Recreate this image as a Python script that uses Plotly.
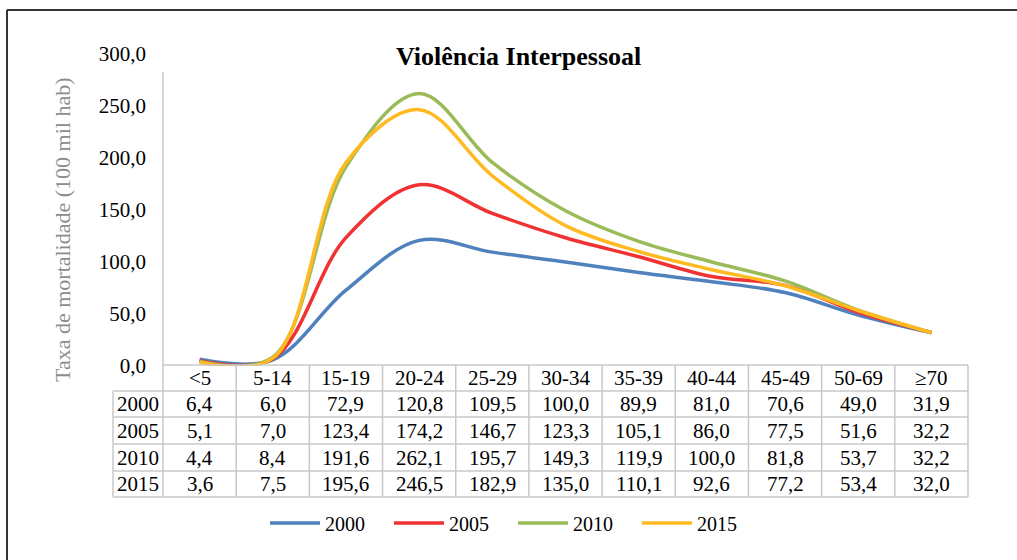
import plotly.graph_objects as go

categories = ["<5", "5-14", "15-19", "20-24", "25-29", "30-34", "35-39", "40-44", "45-49", "50-69", "≥70"]
years = ["2000", "2005", "2010", "2015"]
v2000 = [6.4, 6.0, 72.9, 120.8, 109.5, 100.0, 89.9, 81.0, 70.6, 49.0, 31.9]
v2005 = [5.1, 7.0, 123.4, 174.2, 146.7, 123.3, 105.1, 86.0, 77.5, 51.6, 32.2]
v2010 = [4.4, 8.4, 191.6, 262.1, 195.7, 149.3, 119.9, 100.0, 81.8, 53.7, 32.2]
v2015 = [3.6, 7.5, 195.6, 246.5, 182.9, 135.0, 110.1, 92.6, 77.2, 53.4, 32.0]
series = [v2000, v2005, v2010, v2015]
colors = ["#4F81BD", "#F03232", "#9BBB59", "#FFBA21"]
ytick_vals = [0, 50, 100, 150, 200, 250, 300]

FONT = "Liberation Serif"
W, H = 1017, 560
L, R, T, B = 163, 49, 54, 194
PW, PH = W - L - R, H - T - B
n = len(categories)

def px_x(p):
    return (p - L) / PW

def px_y(p):
    return (H - B - p) / PH

def cat_x(v):
    return (v + 0.5) / n

def fmt(v):
    return f"{v:.1f}".replace(".", ",")

fig = go.Figure()
idx = list(range(n))
for name, vals, col in zip(years, series, colors):
    fig.add_trace(go.Scatter(
        x=idx, y=vals, name=name, mode="lines",
        line=dict(color=col, width=3.5, shape="spline", smoothing=1.0),
        hoverinfo="x+y+name",
    ))

shapes = []
annotations = []
grid = "#C8C8C8"
row_px = [365, 391, 417, 444, 471, 497]
row_y = [px_y(p) for p in row_px]
label_left = px_x(113)

for i in range(n + 1):
    shapes.append(dict(type="line", xref="paper", yref="paper", x0=cat_x(i - 0.5), x1=cat_x(i - 0.5),
                       y0=row_y[0], y1=row_y[-1], line=dict(color=grid, width=1.5)))
shapes.append(dict(type="line", xref="paper", yref="paper", x0=label_left, x1=label_left,
                   y0=row_y[1], y1=row_y[-1], line=dict(color=grid, width=1.5)))
shapes.append(dict(type="line", xref="paper", yref="paper", x0=0, x1=1,
                   y0=row_y[0], y1=row_y[0], line=dict(color=grid, width=1.5)))
for yy in row_y[1:]:
    shapes.append(dict(type="line", xref="paper", yref="paper", x0=label_left, x1=1,
                       y0=yy, y1=yy, line=dict(color=grid, width=1.5)))
shapes.append(dict(type="line", xref="paper", yref="paper", x0=0, x1=0,
                   y0=0, y1=px_y(72), line=dict(color=grid, width=1.5)))
shapes.append(dict(type="line", xref="paper", yref="paper", x0=px_x(7), x1=px_x(1017),
                   y0=px_y(10), y1=px_y(10), line=dict(color="#333333", width=2)))
shapes.append(dict(type="line", xref="paper", yref="paper", x0=px_x(7), x1=px_x(7),
                   y0=px_y(10), y1=px_y(560), line=dict(color="#333333", width=2)))

tfont = dict(family=FONT, size=21, color="#000000")
hy = (row_y[0] + row_y[1]) / 2
for i, c in enumerate(categories):
    annotations.append(dict(x=cat_x(i), y=hy, xref="paper", yref="paper", text=c, showarrow=False,
                            font=tfont, xanchor="center", yanchor="middle"))
for r, (name, vals) in enumerate(zip(years, series)):
    yy = (row_y[r + 1] + row_y[r + 2]) / 2
    annotations.append(dict(x=label_left / 2, y=yy, xref="paper", yref="paper", text=name,
                            showarrow=False, font=tfont, xanchor="center", yanchor="middle"))
    for i, v in enumerate(vals):
        annotations.append(dict(x=cat_x(i), y=yy, xref="paper", yref="paper", text=fmt(v),
                                showarrow=False, font=tfont, xanchor="center", yanchor="middle"))

annotations.append(dict(x=px_x(518), y=px_y(57), xref="paper", yref="paper",
                        text="<b>Violência Interpessoal</b>", showarrow=False,
                        font=dict(family=FONT, size=26, color="#000000"),
                        xanchor="center", yanchor="middle"))
annotations.append(dict(x=px_x(62), y=px_y(229), xref="paper", yref="paper",
                        text="Taxa de mortalidade (100 mil hab)", showarrow=False, textangle=-90,
                        font=dict(family=FONT, size=22, color="#8C8C8C"),
                        xanchor="center", yanchor="middle"))

fig.update_layout(
    width=W, height=H,
    margin=dict(l=L, r=R, t=T, b=B, pad=0),
    paper_bgcolor="white", plot_bgcolor="white",
    separators=",.",
    shapes=shapes, annotations=annotations,
    showlegend=True,
    legend=dict(orientation="h", x=px_x(513), y=px_y(523), xanchor="center", yanchor="middle",
                font=dict(family=FONT, size=20, color="#000000"),
                entrywidth=59, entrywidthmode="pixels", itemwidth=50,
                bgcolor="rgba(0,0,0,0)"),
    xaxis=dict(range=[-0.5, n - 0.5], showgrid=False, zeroline=False, showline=False,
               showticklabels=False, ticks="", fixedrange=True),
    yaxis=dict(range=[0, 300], tickvals=ytick_vals, tickformat=".1f", showgrid=False,
               zeroline=False, showline=False, ticks="", ticklabelstandoff=16,
               tickfont=dict(family=FONT, size=21, color="#000000"), fixedrange=True),
)

fig.write_html("out.html", config={"displayModeBar": False},
               post_script="document.body.style.margin='0';document.body.style.overflow='hidden';")
